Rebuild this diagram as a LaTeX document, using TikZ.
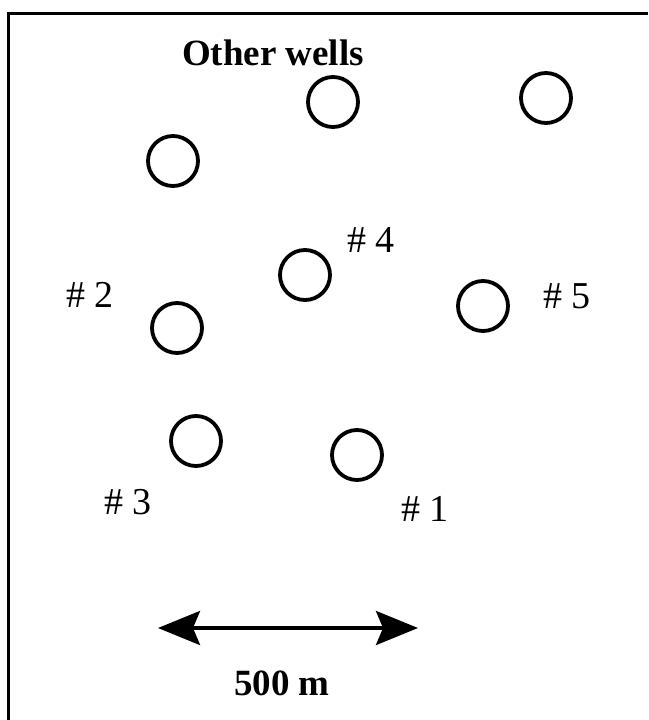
\documentclass[tikz,border=0pt]{standalone}
\usepackage{fontspec}
\setmainfont{Liberation Serif}
\usetikzlibrary{arrows.meta}
\begin{document}
\begin{tikzpicture}[x=1pt,y=-1pt,
  well/.style={circle,draw,line width=3.8pt,minimum size=50pt,inner sep=0pt},
  tag/.style={anchor=base,inner sep=0pt,font=\fontsize{38}{42}\selectfont},
  btag/.style={anchor=base,inner sep=0pt,font=\fontsize{37}{42}\selectfont\bfseries}]
\useasboundingbox (0,0) rectangle (648,720);
% frame (top and left edges)
\coordinate (fa) at (8.5,720);
\coordinate (fb) at (8.5,13.5);
\coordinate (fc) at (648,13.5);
\draw[line width=2.2pt] (fa) -- (fb) -- (fc);
% wells
\node[well] (o1) at (333,102) {};
\node[well] (o2) at (546,98) {};
\node[well] (o3) at (173,161) {};
\node[well] (w4) at (305,275) {};
\node[well] (w2) at (177,328) {};
\node[well] (w5) at (483,306) {};
\node[well] (w3) at (196,441) {};
\node[well] (w1) at (357,455) {};
% labels
\node[btag] (lo) at (273,65) {Other wells};
\node[tag] (l4) at (371,252) {\# 4};
\node[tag] (l2) at (90,307) {\# 2};
\node[tag] (l5) at (567,308) {\# 5};
\node[tag] (l3) at (128,514) {\# 3};
\node[tag] (l1) at (425,521) {\# 1};
% scale bar
\coordinate (sa) at (158,628);
\coordinate (sb) at (418,628);
\draw[line width=3.6pt,{Stealth[length=42pt,width=34pt,inset=7pt]}-{Stealth[length=42pt,width=34pt,inset=7pt]}] (sa) -- (sb);
\node[btag] (ls) at (282,695) {500 m};
\end{tikzpicture}
\end{document}
